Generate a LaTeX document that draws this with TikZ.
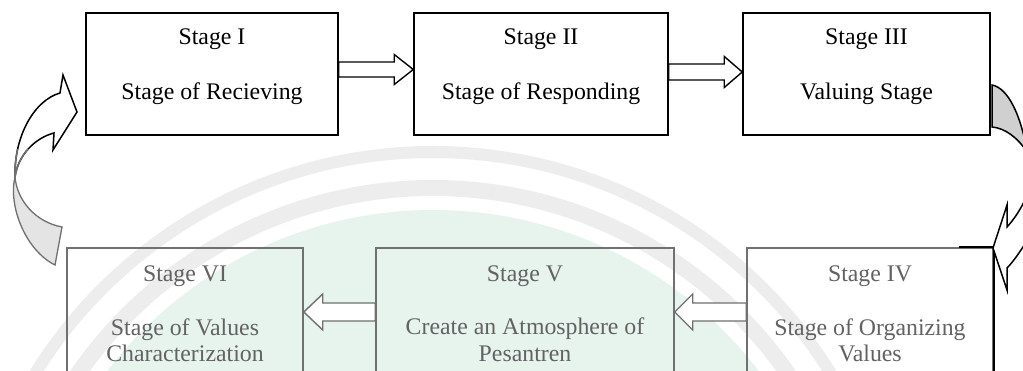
\documentclass[tikz,border=0pt]{standalone}
\usepackage{fontspec}
\setmainfont{Liberation Serif}
\usetikzlibrary{calc}

\definecolor{wmgreen}{RGB}{231,244,237}
\definecolor{wmgray}{RGB}{237,237,237}
\definecolor{fadeline}{RGB}{112,112,112}
\definecolor{fadetext}{RGB}{98,98,98}
\definecolor{backfill}{RGB}{208,208,208}
\definecolor{fadefill}{RGB}{228,228,228}

% horizontal block arrow: #1 style, #2 tail, #3 tip, #4 signed head length,
% #5 half shaft width, #6 half head width
\newcommand\blockarrow[6]{%
  \draw[#1] let \p1=(#2), \p2=(#3) in
    ({\x1},{\y1+#5}) -- ({\x2-(#4)},{\y1+#5}) -- ({\x2-(#4)},{\y1+#6}) -- ({\x2},{\y1})
    -- ({\x2-(#4)},{\y1-#6}) -- ({\x2-(#4)},{\y1-#5}) -- ({\x1},{\y1-#5}) -- cycle;}

\begin{document}
\begin{tikzpicture}[x=1pt,y=-1pt,
  line join=miter,
  stagebox/.style={draw=black,line width=1.5pt,fill=none,inner sep=0pt},
  fadebox/.style={draw=fadeline,line width=1.5pt,fill=none,inner sep=0pt},
  txt/.style={font=\fontsize{23.8}{28}\selectfont,inner sep=0pt,anchor=base},
  fadetxt/.style={txt,text=fadetext},
  toparrow/.style={draw=black,line width=1.4pt,fill=white},
  botarrow/.style={draw=fadeline,line width=1.4pt,fill=white},
  wmband/.style={draw=wmgray}]

\useasboundingbox (0,0) rectangle (1023,371);
\clip (0,0) rectangle (1023,371);
\fill[white] (0,0) rectangle (1023,371);

% faint background emblem: green dome under two pale arcs
\coordinate (wm) at (433,620);
\fill[wmgreen] (wm) circle[radius=410pt];
\draw[wmband,line width=16pt] (wm) circle[radius=432pt];
\draw[wmband,line width=12pt] (wm) circle[radius=468pt];

% upper row
\node[stagebox,minimum width=252pt,minimum height=122pt] (b1) at (212,74) {};
\node[stagebox,minimum width=254pt,minimum height=122pt] (b2) at (541,74) {};
\node[stagebox,minimum width=247pt,minimum height=122pt] (b3) at (866.5,74) {};
\node[txt] (b1a) at (212,45)  {Stage I};
\node[txt] (b1b) at (212,100) {Stage of Recieving};
\node[txt] (b2a) at (541,45)  {Stage II};
\node[txt] (b2b) at (541,100) {Stage of Responding};
\node[txt] (b3a) at (866.5,45)  {Stage III};
\node[txt] (b3b) at (866.5,100) {Valuing Stage};

% lower row
\node[fadebox,minimum width=236pt,minimum height=160pt] (b6) at (185,328) {};
\node[fadebox,minimum width=298pt,minimum height=160pt] (b5) at (525,328) {};
\node[fadebox,minimum width=246pt,minimum height=160pt] (b4) at (870,328) {};
\draw[black,line width=1.5pt] ($(b4.north east)+(-35,0)$) -- (b4.north east) -- (b4.south east);
\node[fadetxt] (b6a) at (185,282) {Stage VI};
\node[fadetxt] (b6b) at (185,336) {Stage of Values};
\node[fadetxt] (b6c) at (185,362) {Characterization};
\node[fadetxt] (b5a) at (525,282) {Stage V};
\node[fadetxt] (b5b) at (525,335) {Create an Atmosphere of};
\node[fadetxt] (b5c) at (525,361) {Pesantren};
\node[fadetxt] (b4a) at (870,282) {Stage IV};
\node[fadetxt] (b4b) at (870,336) {Stage of Organizing};
\node[fadetxt] (b4c) at (870,362) {Values};

% straight block arrows between neighbouring stages
\coordinate (a12s) at (b1.east |- 0,69.5);
\coordinate (a12e) at (b2.west |- 0,69.5);
\coordinate (a23s) at (b2.east |- 0,72);
\coordinate (a23e) at (b3.west |- 0,72);
\coordinate (a45s) at (b4.west |- 0,312);
\coordinate (a45e) at (b5.east |- 0,312);
\coordinate (a56s) at (b5.west |- 0,312);
\coordinate (a56e) at (b6.east |- 0,312);
\blockarrow{toparrow}{a12s}{a12e}{19pt}{7.5pt}{15pt}
\blockarrow{toparrow}{a23s}{a23e}{18pt}{8pt}{15.5pt}
\blockarrow{botarrow}{a45s}{a45e}{-18pt}{9pt}{18pt}
\blockarrow{botarrow}{a56s}{a56e}{-19pt}{9pt}{18pt}

% curved arrow: Stage III down to Stage IV
\draw[line width=1.5pt,fill=backfill]
  (992,85) .. controls (1008,88) and (1021,115) .. (1027,152)
  .. controls (1018,138) and (1005,128) .. (992,127) -- cycle;
\draw[line width=1.5pt,fill=white]
  (1007,227) -- (1007,205) -- (993,248) -- (1007,290) -- (1007,268)
  .. controls (1013,262) and (1020,252) .. (1030,236) -- (1035,170)
  .. controls (1030,195) and (1018,215) .. (1007,227) -- cycle;

% curved arrow: Stage VI back up to Stage I
\draw[draw=fadeline,fill=fadefill,line width=1.3pt]
  (15,177) .. controls (8,205) and (25,250) .. (55,265) -- (62,227)
  .. controls (35,222) and (17,200) .. (15,177) -- cycle;
\draw[line width=1.5pt,fill=white]
  (15,177) .. controls (14,135) and (35,100) .. (60,93) -- (63,75) -- (77,112)
  -- (53,150) -- (54,133) .. controls (35,138) and (18,155) .. (15,177) -- cycle;
\begin{scope}
  \clip (0,150) rectangle (40,200);
  \draw[draw=fadeline,line width=1.5pt]
    (15,177) .. controls (14,135) and (35,100) .. (60,93)
    (54,133) .. controls (35,138) and (18,155) .. (15,177);
\end{scope}
\end{tikzpicture}
\end{document}
